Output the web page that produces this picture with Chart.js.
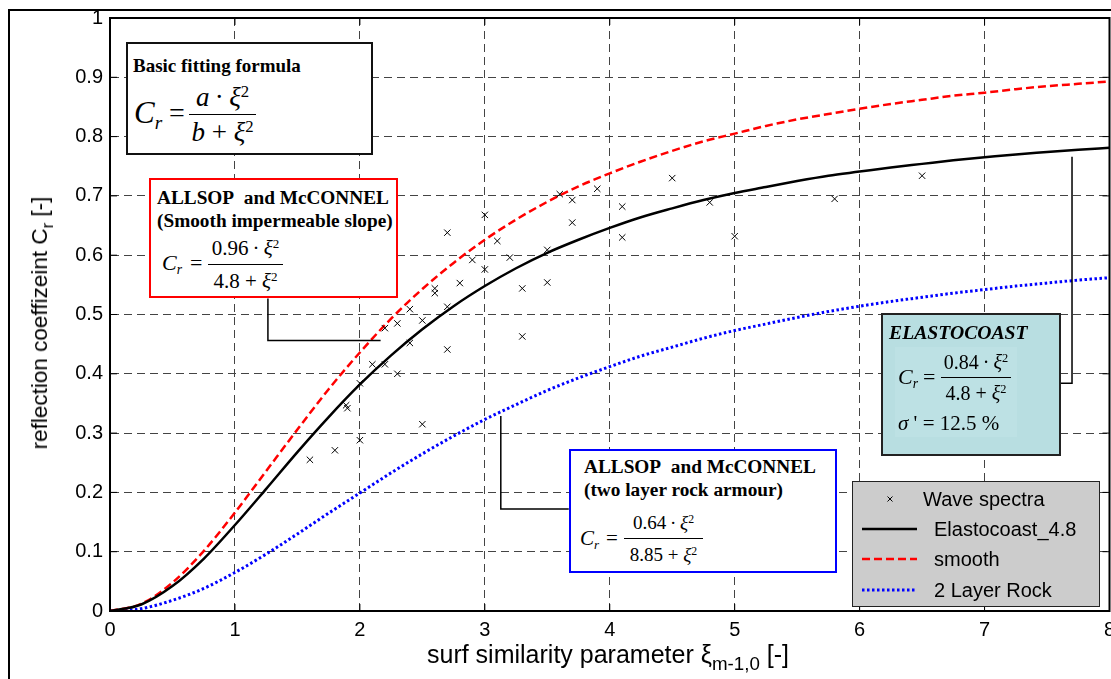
<!DOCTYPE html>
<html>
<head>
<meta charset="utf-8">
<script src="https://cdn.jsdelivr.net/npm/chart.js@4.4.0/dist/chart.umd.min.js"></script>
<style>
body{margin:0;background:#fff;}
#wrap{position:relative;width:1111px;height:679px;overflow:hidden;background:#fff;}
#grafico{position:absolute;left:0;top:0;}
#frame{position:absolute;left:8px;top:9px;width:1300px;height:900px;border-left:2px solid #000;border-top:2px solid #000;}
.box{position:absolute;box-sizing:border-box;background:#fff;}
.t{position:absolute;white-space:nowrap;font-family:"Liberation Serif","Times New Roman",serif;color:#000;}
.b{font-weight:bold;}
.s{position:absolute;white-space:nowrap;font-family:"Liberation Sans",Arial,sans-serif;color:#000;font-size:20px;line-height:24px;}
.f{position:absolute;display:flex;flex-direction:column;align-items:center;font-family:"Liberation Serif","Times New Roman",serif;white-space:nowrap;}
.f .d{border-top:1.3px solid #000;width:100%;text-align:center;}
.f .n{width:100%;text-align:center;}
sup{font-size:62%;vertical-align:0.55em;line-height:0;}
sub{font-size:62%;vertical-align:-0.3em;line-height:0;}
.ax sub{font-size:75%;vertical-align:-0.35em;}
</style>
</head>
<body>
<div id="wrap">
  <canvas id="grafico" width="1115" height="679"></canvas>
  <div id="frame"></div>

  <!-- Basic fitting formula -->
  <div class="box" style="left:126px;top:42px;width:247px;height:113px;border:2px solid #111;"></div>
  <div class="t b" style="left:133px;top:55px;font-size:19px;line-height:22px;">Basic fitting formula</div>
  <div class="t" style="left:134px;top:96px;font-size:31px;line-height:34px;"><i>C</i><sub><i>r</i></sub></div>
  <div class="t" style="left:169px;top:96px;font-size:28px;line-height:34px;">=</div>
  <div class="f" style="left:189px;top:80px;width:67px;font-size:27px;line-height:34px;">
    <div class="n"><i>a</i>&#8201;·&#8201;<i>ξ</i><sup>2</sup></div><div class="d"><i>b</i> + <i>ξ</i><sup>2</sup></div>
  </div>

  <!-- Smooth -->
  <div class="box" style="left:149px;top:178px;width:249px;height:120px;border:2px solid #ff0000;"></div>
  <div class="t b" style="left:157px;top:187px;font-size:19.3px;line-height:22px;">ALLSOP&nbsp; and McCONNEL</div>
  <div class="t b" style="left:157px;top:210px;font-size:19.3px;line-height:22px;">(Smooth impermeable slope)</div>
  <div class="t" style="left:162px;top:250px;font-size:22px;line-height:26px;"><i>C</i><sub><i>r</i></sub></div>
  <div class="t" style="left:190px;top:250px;font-size:22px;line-height:26px;">=</div>
  <div class="f" style="left:208px;top:232px;width:75px;font-size:21px;line-height:32px;">
    <div class="n">0.96&#8201;·&#8201;<i>ξ</i><sup>2</sup></div><div class="d">4.8 + <i>ξ</i><sup>2</sup></div>
  </div>

  <!-- Two layer rock -->
  <div class="box" style="left:569px;top:449px;width:268px;height:124px;border:2px solid #0000ff;"></div>
  <div class="t b" style="left:584px;top:456px;font-size:19.3px;line-height:22px;">ALLSOP&nbsp; and McCONNEL</div>
  <div class="t b" style="left:584px;top:479px;font-size:19.3px;line-height:22px;">(two layer rock armour)</div>
  <div class="t" style="left:580px;top:525px;font-size:21px;line-height:26px;"><i>C</i><sub><i>r</i></sub></div>
  <div class="t" style="left:606px;top:525px;font-size:21px;line-height:26px;">=</div>
  <div class="f" style="left:624px;top:507px;width:79px;font-size:19px;line-height:31px;">
    <div class="n">0.64&#8201;·&#8201;<i>ξ</i><sup>2</sup></div><div class="d">8.85 + <i>ξ</i><sup>2</sup></div>
  </div>

  <!-- Elastocoast -->
  <div class="box" style="left:881px;top:313px;width:180px;height:143px;border:2px solid #222;background:#b8dee1;"></div>
  <div class="box" style="left:895px;top:347px;width:122px;height:90px;background:#bde1e4;"></div>
  <div class="t b" style="left:889px;top:321px;font-size:19.7px;line-height:22px;"><i>ELASTOCOAST</i></div>
  <div class="t" style="left:898px;top:364px;font-size:22px;line-height:26px;"><i>C</i><sub><i>r</i></sub></div>
  <div class="t" style="left:923px;top:364px;font-size:22px;line-height:26px;">=</div>
  <div class="f" style="left:941px;top:347px;width:70px;font-size:20px;line-height:30px;">
    <div class="n">0.84&#8201;·&#8201;<i>ξ</i><sup>2</sup></div><div class="d">4.8 + <i>ξ</i><sup>2</sup></div>
  </div>
  <div class="t" style="left:898px;top:410px;font-size:21px;line-height:26px;"><i>σ</i> ' = 12.5 %</div>

  <!-- Legend -->
  <div class="box" style="left:852px;top:481px;width:248px;height:126px;border:1.5px solid #222;background:#cccccc;"></div>
  <svg style="position:absolute;left:852px;top:481px;" width="248" height="126">
    <path d="M35.5 15.5 L40.5 20.5 M40.5 15.5 L35.5 20.5" stroke="#000" stroke-width="1"/>
    <line x1="10" y1="48" x2="65" y2="48" stroke="#000" stroke-width="2.5"/>
    <line x1="10" y1="78" x2="65" y2="78" stroke="#ff0000" stroke-width="2.5" stroke-dasharray="8 4"/>
    <line x1="10" y1="109" x2="65" y2="109" stroke="#0000ff" stroke-width="3" stroke-dasharray="2.5 2.5"/>
  </svg>
  <div class="s" style="left:923px;top:487px;">Wave spectra</div>
  <div class="s" style="left:934px;top:517px;">Elastocoast_4.8</div>
  <div class="s" style="left:934px;top:547px;">smooth</div>
  <div class="s" style="left:934px;top:578px;">2 Layer Rock</div>

  <!-- axis titles -->
  <div class="s ax" style="left:40px;top:323px;font-size:22.5px;line-height:28px;transform:translate(-50%,-50%) rotate(-90deg);">reflection coeffizeint C<sub>r</sub> [-]</div>
  <div class="s ax" style="left:427px;top:639px;font-size:25px;line-height:30px;">surf similarity parameter ξ<sub>m-1,0</sub> [-]</div>
</div>

<script>
// Messwerte (Wave spectra)
const waveX = [1.6, 1.8, 1.89, 1.9, 2.0, 2.0, 2.1, 2.2, 2.3, 2.2, 2.3, 2.4, 2.4, 2.5, 2.5, 2.6, 2.6, 2.7, 2.7, 2.7,
               2.8, 2.9, 3.0, 3.0, 3.1, 3.2, 3.3, 3.3, 3.5, 3.5, 3.6, 3.7, 3.7, 3.9, 4.1, 4.1, 4.5, 4.8, 5.0, 5.8, 6.5];
const waveY = [0.255, 0.271, 0.347, 0.342, 0.288, 0.384, 0.416, 0.416, 0.400, 0.477, 0.485, 0.452, 0.509, 0.315, 0.490,
               0.544, 0.536, 0.638, 0.513, 0.441, 0.553, 0.592, 0.668, 0.576, 0.624, 0.596, 0.544, 0.463, 0.609, 0.554,
               0.703, 0.693, 0.655, 0.712, 0.682, 0.630, 0.730, 0.689, 0.632, 0.695, 0.734];

// Kurven
const xi = [0, 0.25, 0.5, 0.75, 1, 1.25, 1.5, 1.75, 2, 2.25, 2.5, 2.75, 3, 3.25, 3.5, 3.75, 4, 4.25, 4.5, 4.75,
            5, 5.25, 5.5, 5.75, 6, 6.25, 6.5, 6.75, 7, 7.25, 7.5, 7.75, 8];
const elastocoast = [0, 0.011, 0.042, 0.088, 0.145, 0.206, 0.268, 0.327, 0.382, 0.431, 0.475, 0.514, 0.548, 0.578,
                     0.604, 0.626, 0.646, 0.664, 0.679, 0.693, 0.705, 0.715, 0.725, 0.734, 0.741, 0.748, 0.754,
                     0.760, 0.765, 0.770, 0.774, 0.778, 0.781];
const smooth = [0, 0.012, 0.048, 0.101, 0.166, 0.236, 0.306, 0.374, 0.436, 0.493, 0.543, 0.587, 0.626, 0.660, 0.690,
                0.716, 0.738, 0.758, 0.776, 0.792, 0.805, 0.818, 0.829, 0.838, 0.847, 0.855, 0.862, 0.869, 0.874,
                0.880, 0.885, 0.889, 0.893];
const twoLayerRock = [0, 0.004, 0.018, 0.038, 0.065, 0.096, 0.130, 0.165, 0.199, 0.233, 0.265, 0.295, 0.323, 0.348,
                      0.372, 0.393, 0.412, 0.430, 0.445, 0.460, 0.473, 0.484, 0.495, 0.505, 0.514, 0.522, 0.529,
                      0.536, 0.542, 0.548, 0.553, 0.558, 0.562];

// Verbindungslinien der Textboxen (Datenkoordinaten)
const connectors = [
  [[1.264, 0.527], [1.264, 0.456], [2.166, 0.456]],
  [[3.128, 0.329], [3.128, 0.172], [3.672, 0.172]],
  [[7.70, 0.766], [7.70, 0.384], [7.60, 0.384]]
];

function pts(xs, ys){ return xs.map((x, i) => ({x: x, y: ys[i]})); }

const extras = {
  id: 'extras',
  afterDatasetsDraw(chart){
    const c = chart.ctx, a = chart.chartArea;
    const sx = chart.scales.x, sy = chart.scales.y;
    c.save();
    // Rahmen oben/rechts
    c.strokeStyle = '#000';
    c.lineWidth = 2;
    c.strokeRect(a.left, a.top, a.right - a.left, a.bottom - a.top);
    // innere Ticks
    c.lineWidth = 1;
    c.beginPath();
    sx.ticks.forEach(t => {
      const p = sx.getPixelForValue(t.value);
      c.moveTo(p, a.bottom); c.lineTo(p, a.bottom - 7);
      c.moveTo(p, a.top); c.lineTo(p, a.top + 7);
    });
    sy.ticks.forEach(t => {
      const p = sy.getPixelForValue(t.value);
      c.moveTo(a.left, p); c.lineTo(a.left + 7, p);
      c.moveTo(a.right, p); c.lineTo(a.right - 7, p);
    });
    c.stroke();
    // Verbindungslinien
    c.lineWidth = 1.5;
    connectors.forEach(line => {
      c.beginPath();
      line.forEach((q, i) => {
        const px = sx.getPixelForValue(q[0]), py = sy.getPixelForValue(q[1]);
        if (i === 0) c.moveTo(px, py); else c.lineTo(px, py);
      });
      c.stroke();
    });
    c.restore();
  }
};

const ctx = document.getElementById('grafico');
new Chart(ctx, {
  type: 'scatter',
  data: {
    datasets: [
      {label: 'Wave spectra', data: pts(waveX, waveY), pointStyle: 'crossRot', pointRadius: 4.5,
       borderColor: '#000', borderWidth: 1, showLine: false},
      {label: 'Elastocoast_4.8', data: pts(xi, elastocoast), showLine: true, pointRadius: 0,
       borderColor: '#000', borderWidth: 2.5, cubicInterpolationMode: 'monotone'},
      {label: 'smooth', data: pts(xi, smooth), showLine: true, pointRadius: 0,
       borderColor: '#ff0000', borderWidth: 2.5, borderDash: [8, 4], cubicInterpolationMode: 'monotone'},
      {label: '2 Layer Rock', data: pts(xi, twoLayerRock), showLine: true, pointRadius: 0,
       borderColor: '#0000ff', borderWidth: 3, borderDash: [2.5, 2.5], cubicInterpolationMode: 'monotone'}
    ]
  },
  options: {
    responsive: false,
    animation: false,
    layout: {padding: {left: 0, top: 18, right: 2, bottom: 0}},
    plugins: {legend: {display: false}, tooltip: {enabled: false}},
    scales: {
      x: {
        min: 0, max: 8,
        afterFit: s => { s.height = 68; s.paddingLeft = 0; s.paddingRight = 0; },
        ticks: {stepSize: 1, color: '#000', padding: 7, font: {family: 'Liberation Sans', size: 20}},
        grid: {color: '#444', lineWidth: 1, drawTicks: false},
        border: {display: true, color: '#000', width: 2, dash: [8, 5]}
      },
      y: {
        min: 0, max: 1,
        afterFit: s => { s.width = 110; s.paddingTop = 0; s.paddingBottom = 0; },
        ticks: {stepSize: 0.1, color: '#000', padding: 7, font: {family: 'Liberation Sans', size: 20},
                callback: v => (Math.round(v * 10) / 10).toString()},
        grid: {color: '#444', lineWidth: 1, drawTicks: false},
        border: {display: true, color: '#000', width: 2, dash: [8, 5]}
      }
    }
  },
  plugins: [extras]
});
</script>
</body>
</html>
